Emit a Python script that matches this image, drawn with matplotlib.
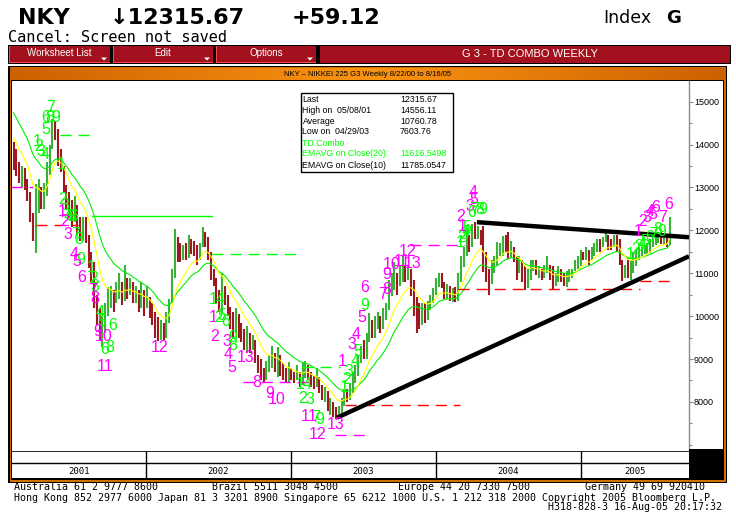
import numpy as np
import pandas as pd
import matplotlib
matplotlib.use("Agg")
import matplotlib.pyplot as plt
from matplotlib.patches import Rectangle, Polygon
from matplotlib.ticker import MultipleLocator, FixedLocator, FuncFormatter

# ---------------- data (weekly NKY bars) ----------------
start_date = "2001-02-02"
close = [
    13700, 13500, 13250, 13300, 13100, 12900, 12300, 12000, 12700, 12900,
    12600, 12900, 13500, 13900, 14500, 14300, 13800, 13400, 13000, 12700,
    12500, 12300, 12600, 12200, 12000, 12200, 11800, 11400, 11000, 10500,
    10000, 9600, 9700, 10100, 10400, 10500, 10300, 10600, 10700, 10400,
    10800, 10600, 10700, 10400, 10500, 10300, 10500, 10200, 10400, 10100,
    10000, 9700, 9500, 9800, 9600, 10000, 10300, 11000, 11700, 11600,
    11300, 11500, 11400, 11700, 11600, 11500, 11300, 11600, 11900, 11800,
    11400, 11000, 10800, 10500, 10300, 10700, 10400, 10100, 10000, 9800,
    10000, 9750, 9600, 9400, 9550, 9300, 9400, 9100, 8800, 8700,
    8600, 8800, 8900, 9100, 8800, 9000, 8700, 8600, 8500, 8700,
    8600, 8500, 8650, 8500, 8700, 8800, 8650, 8500, 8400, 8550,
    8300, 8150, 8200, 7900, 7950, 7750, 7700, 7800, 8000, 8200,
    8100, 8300, 8500, 8700, 8900, 9200, 9000, 9500, 9800, 9600,
    9700, 9900, 9700, 10000, 10200, 10500, 10800, 11000, 10700, 10900,
    11100, 10900, 11000, 10700, 10400, 10200, 9900, 10100, 10000, 10200,
    10400, 10500, 10800, 10900, 10700, 10500, 10600, 10400, 10500, 10400,
    10900, 11200, 11500, 11800, 11700, 12000, 11900, 12000, 11800, 11200,
    11000, 10800, 11100, 11300, 11500, 11600, 11800, 11700, 11500, 11600,
    11300, 11000, 11200, 10900, 10700, 10900, 11100, 11200, 11000, 11050,
    10900, 11000, 11100, 10900, 10700, 10900, 11000, 10850, 10800, 10950,
    11000, 11050, 11200, 11350, 11450, 11400, 11500, 11350, 11450, 11600,
    11700, 11650, 11750, 11850, 11700, 11650, 11800, 11700, 11300, 10900,
    11100, 11000, 11200, 11300, 11400, 11450, 11500, 11550, 11650, 11700,
    11750, 11800, 11850, 11700, 11750, 11700, 12315.67,
]
high = [
    14050, 13900, 13600, 13500, 13450, 13200, 12900, 12400, 13070, 13200,
    13000, 13100, 13600, 14000, 14600, 14556, 14350, 13900, 13500, 13050,
    12900, 12700, 12800, 12600, 12300, 12300, 12300, 11900, 11500, 11270,
    10500, 10200, 10000, 10300, 10670, 10700, 10600, 10800, 11000, 10800,
    11200, 10900, 10900, 10800, 10700, 10600, 10800, 10600, 10700, 10450,
    10300, 10100, 9970, 9900, 9850, 10100, 10400, 11100, 12020, 11840,
    11700, 11650, 11700, 11900, 11800, 11750, 11650, 11700, 12070, 11950,
    11850, 11500, 11100, 10900, 10600, 11010, 10700, 10500, 10220, 10100,
    10200, 10050, 9850, 9700, 9760, 9600, 9550, 9450, 9100, 8990,
    8800, 8950, 9100, 9300, 9150, 9290, 9100, 8900, 8800, 8920,
    8800, 8700, 8850, 8700, 8900, 8950, 8850, 8700, 8600, 8800,
    8590, 8400, 8350, 8250, 8100, 8000, 7890, 7900, 8100, 8300,
    8300, 8450, 8700, 8850, 9100, 9300, 9450, 9600, 10080, 9900,
    10000, 10100, 10000, 10200, 10300, 10850, 11000, 11250, 11000, 11200,
    11390, 11200, 11200, 11090, 10850, 10450, 10300, 10300, 10300, 10350,
    10500, 10650, 10900, 11000, 11000, 10800, 10750, 10700, 10650, 10690,
    11000, 11390, 11600, 12020, 11900, 12150, 12195, 12100, 12000, 12090,
    11500, 11100, 11300, 11390, 11720, 11700, 11860, 11900, 11950, 11750,
    11600, 11390, 11400, 11300, 11160, 11100, 11300, 11300, 11300, 11160,
    11100, 11200, 11390, 11200, 11160, 11000, 11160, 11100, 11000, 11050,
    11090, 11100, 11300, 11390, 11550, 11500, 11600, 11550, 11600, 11700,
    11790, 11800, 11850, 11950, 11900, 11800, 11900, 11900, 11790, 11300,
    11200, 11300, 11300, 11500, 11550, 11600, 11600, 11650, 11700, 11790,
    11850, 11900, 11950, 11950, 11900, 11900, 12320,
]
low = [
    13400, 13260, 13100, 13000, 12950, 12680, 12200, 11740, 11460, 12400,
    12500, 12500, 12800, 13300, 13900, 14100, 13500, 13370, 12900, 12500,
    12300, 12070, 12200, 11900, 11750, 11740, 11700, 11130, 10800, 10200,
    9800, 9410, 9270, 9600, 10000, 10200, 10100, 10300, 10400, 10250,
    10350, 10400, 10500, 10300, 10300, 10100, 10200, 10000, 10200, 9950,
    9800, 9500, 9420, 9450, 9450, 9500, 9850, 10300, 10900, 11250,
    11250, 11300, 11300, 11350, 11450, 11400, 11200, 11300, 11600, 11600,
    11300, 10850, 10700, 10300, 10100, 10080, 10250, 10000, 9700, 9520,
    9600, 9500, 9400, 9200, 9150, 9150, 9200, 8900, 8680, 8500,
    8450, 8500, 8700, 8800, 8700, 8590, 8600, 8500, 8450, 8450,
    8500, 8450, 8500, 8350, 8400, 8550, 8500, 8350, 8300, 8350,
    8200, 8050, 8000, 7800, 7700, 7650, 7600, 7603, 7750, 7900,
    8000, 8050, 8200, 8450, 8600, 8900, 8990, 9000, 9400, 9500,
    9500, 9700, 9600, 9700, 9900, 10150, 10460, 10600, 10500, 10700,
    10800, 10800, 10850, 10460, 10000, 9610, 9700, 9800, 9850, 9900,
    10150, 10300, 10500, 10690, 10650, 10400, 10400, 10350, 10320, 10320,
    10350, 10800, 11150, 11400, 11500, 11620, 11800, 11800, 11650, 11020,
    10800, 10500, 10750, 11000, 11160, 11400, 11390, 11500, 11320, 11350,
    11250, 10850, 11000, 10800, 10620, 10650, 10850, 11050, 10950, 10900,
    10850, 10900, 11000, 10850, 10620, 10700, 10800, 10800, 10700, 10690,
    10800, 10900, 11050, 11100, 11160, 11300, 11300, 11200, 11300, 11390,
    11500, 11500, 11600, 11720, 11550, 11550, 11600, 11500, 11200, 10810,
    10900, 10900, 10850, 11000, 11160, 11300, 11400, 11450, 11450, 11480,
    11600, 11650, 11700, 11670, 11650, 11600, 11650,
]
prev_close_before_start = 14000
ema20_seed = 14850
ema10_seed = 14250

y_ticks = [8000, 9000, 10000, 11000, 12000, 13000, 14000, 15000]
year_labels = ["2001", "2002", "2003", "2004", "2005"]
year_starts = ["2002-01-01", "2003-01-01", "2004-01-01", "2005-01-01"]

# TD Combo counts: text, week position, price, colour key
td_text = ["1", "2", "3", "4", "5", "6", "8", "9", "7", "1",
           "2", "3", "1", "4", "5", "6", "2", "3", "7", "8", "4", "9", "5", "1", "6", "2", "3", "7", "8",
           "4", "5", "9", "10", "6", "6", "8", "11", "12",
           "1", "4", "1", "2", "5", "6", "2", "3", "9", "8", "4", "5", "13", "8", "9", "10",
           "1", "4", "2", "3", "1", "1", "7", "9", "13", "12",
           "1", "1", "2", "3", "4", "5", "3", "4", "5", "9", "6", "7", "8", "9", "10", "11", "12", "13",
           "1", "2", "3", "4", "5", "1", "2", "3", "4", "5", "6", "7", "8", "9",
           "1", "2", "3", "4", "5", "6", "7", "6", "1", "2", "3", "4", "5", "6", "7", "8", "9"]
td_week = [8.5, 9.2, 9.9, 11.3, 11.7, 11.7, 13.1, 15.3, 13.5, 17.1,
           17.8, 18.5, 17.4, 19.6, 20.7, 21.8, 18.5, 19.6, 22.5, 23.6, 21.8, 24.3, 22.8, 27.9, 24.6, 29.0, 29.3, 28.6, 29.3,
           31.1, 31.8, 30.4, 32.6, 35.8, 32.9, 34.7, 32.9, 52.7,
           71.8, 74.3, 71.8, 73.9, 75.0, 76.4, 72.5, 76.8, 79.0, 79.0, 77.2, 78.6, 83.6, 87.6, 92.3, 94.8,
           103.1, 105.6, 104.1, 106.7, 104.9, 107.4, 108.8, 110.3, 116.0, 109.5,
           118.2, 118.9, 120.0, 120.7, 122.8, 123.9, 121.8, 123.2, 125.4, 126.4, 126.4, 132.9, 134.4, 134.4, 136.2, 139.7, 141.9, 143.7,
           160.6, 161.3, 162.1, 162.8, 163.1, 161.3, 161.0, 164.2, 165.3, 165.6, 164.9, 166.0, 167.8, 168.9,
           224.6, 226.4, 227.8, 228.9, 230.0, 231.1, 233.6, 235.8, 222.0, 223.9, 225.0, 226.1, 227.2, 229.0, 230.4, 231.8, 233.3]
td_price = [14060, 13965, 13848, 13778, 14339, 14619, 14619, 14619, 14853, 13544,
            12727, 12587, 12447, 12330, 12330, 12330, 12213, 11909, 11909, 11792, 11442, 11325, 11278, 11138, 10904, 10881, 10694, 10601, 10414,
            10086, 9876, 9642, 9526, 9783, 9222, 9269, 8825, 9269,
            10390, 10390, 9970, 9970, 10016, 9876, 9526, 9409, 9502, 9316, 9105, 8802, 9035, 8451, 8194, 8054,
            8404, 8404, 8077, 8054, 7657, 7657, 7634, 7587, 7470, 7236,
            8942, 8334, 8521, 8708, 8942, 9176, 9339, 9573, 9970, 10250, 10670, 10507, 10624, 10975, 11208, 11278, 11512, 11232,
            11722, 11839, 11909, 11979, 12073, 12096, 12330, 12564, 12891, 12727, 12423, 12494, 12494, 12494,
            11979, 12213, 12307, 12447, 12377, 12540, 12307, 12610, 11442, 11559, 11629, 11675, 11745, 11839, 11909, 12025, 11979]
td_color = ["g"] * 10 + \
           ["g", "g", "m", "g", "g", "g", "m", "m", "g", "g", "m", "g", "m", "g", "m", "g", "g", "m", "m",
            "g", "g", "m", "m", "g", "g", "g", "m", "m"] + \
           ["g", "g", "m", "g", "g", "g", "m", "m", "g", "g", "m", "m", "m", "m", "m", "m",
            "g", "g", "g", "g", "m", "m", "g", "g", "m", "m"] + \
           ["m", "g", "g", "g", "g", "g", "m", "m", "m", "g", "m", "m", "m", "m", "m", "m", "m", "m"] + \
           ["g", "g", "g", "g", "g", "m", "m", "m", "m", "m", "g", "g", "g", "g"] + \
           ["m"] * 8 + ["g"] * 9

# TDST / support-resistance levels
lvl_start = [16.7, -0.9, 8.1, 28.2, 71.4, 103.8, 82.6, 115.6, 119.2, 142.6, 159.9, 225.3]
lvl_end = [28.2, 7.0, 23.2, 71.4, 103.1, 117.4, 106.7, 128.2, 160.6, 162.4, 225.3, 236.2]
lvl_price = [14222, 13007, 12119, 12330, 11442, 8825, 8474, 7236, 7937, 11652, 10624, 10818]
lvl_color = ["g", "m", "r", "g", "g", "g", "m", "m", "r", "m", "r", "r"]
lvl_dashed = [True, True, True, False, True, True, True, True, True, True, True, True]

# trend lines
trend_w0 = [166.7, 116.4]
trend_w1 = [243.0, 243.0]
trend_p0 = [12190, 7634]
trend_p1 = [11839, 11395]

info_labels = ["Last", "High on  05/08/01", "Average", "Low on  04/29/03", "TD Combo",
               "EMAVG on Close(20)", "EMAVG on Close(10)"]
info_values = ["12315.67", "14556.11", "10760.78", "7603.76", "", "11616.5498", "11785.0547"]
info_colors = ["k", "k", "k", "k", "g", "g", "k"]

footer_1 = [("Australia 61 2 9777 8600", 14), ("Brazil 5511 3048 4500", 212),
            ("Europe 44 20 7330 7500", 398), ("Germany 49 69 920410", 585)]
footer_2 = "Hong Kong 852 2977 6000 Japan 81 3 3201 8900 Singapore 65 6212 1000 U.S. 1 212 318 2000 Copyright 2005 Bloomberg L.P."
footer_3 = "H318-828-3 16-Aug-05 20:17:32"

# ---------------- styling ----------------
COL = {"g": "#00ff00", "m": "#ff00ff", "r": "#ff0000", "k": "#000000"}
UP, DN = "#38b238", "#9e1820"
W, H = 736, 527
plt.rcParams["font.family"] = ["DejaVu Sans"]

fig = plt.figure(figsize=(W / 100, H / 100), dpi=100)
fig.patch.set_facecolor("white")


def fx(x):
    return x / W


def fy(y):
    return 1 - y / H


def frect(x0, y0, x1, y1, z=-5, **kw):
    r = Rectangle((fx(x0), fy(y1)), (x1 - x0) / W, (y1 - y0) / H,
                  transform=fig.transFigure, figure=fig, zorder=z, **kw)
    fig.patches.append(r)
    return r


def ftext(x, y, s, **kw):
    return fig.text(fx(x), fy(y), s, **kw)


# header
ftext(18, 23.5, "NKY", fontsize=16, fontweight="bold", va="baseline")
ftext(110, 23.5, "\u219312315.67", fontsize=16, fontweight="bold", va="baseline")
ftext(292, 23.5, "+59.12", fontsize=16, fontweight="bold", va="baseline")
ftext(603, 23, "Index", fontsize=12.5, va="baseline")
ftext(666, 23, "G", fontsize=13, fontweight="bold", va="baseline")
ftext(8, 42.5, "Cancel: Screen not saved", fontsize=11, family="DejaVu Sans Mono", va="baseline")

# menu bar
frect(8, 44.5, 731, 64, z=1, facecolor="black", edgecolor="none")
menu = [("Worksheet List", 9, 110), ("Edit", 113, 213), ("Options", 216, 316)]
for label, a, b in menu:
    frect(a, 46, b, 63, z=1.1, facecolor="#a3101e", edgecolor="none")
    frect(a, 61.5, b, 63, z=1.2, facecolor="#ff4a4a", edgecolor="none")
    frect(a, 46, a + 1.2, 63, z=1.2, facecolor="#ff4a4a", edgecolor="none")
    ftext((a + b) / 2, 53, label, fontsize=7, color="white", ha="center", va="center",
          family="Liberation Sans", zorder=3)
    tri = Polygon([[fx(b - 9), fy(57.5)], [fx(b - 3), fy(57.5)], [fx(b - 6), fy(60.5)]],
                  closed=True, transform=fig.transFigure, facecolor="white", edgecolor="none", zorder=3)
    fig.patches.append(tri)
frect(320, 46, 730, 63, z=1.1, facecolor="#a3101e", edgecolor="none")
ftext(530, 54, "G 3 - TD COMBO WEEKLY", fontsize=8, color="white", ha="center", va="center",
      family="Liberation Sans", zorder=3)

# frame
frect(8, 65.5, 727, 483, z=-6, facecolor="black", edgecolor="none")
frect(9.5, 67, 725.5, 481.5, z=-5.5, facecolor="#d27000", edgecolor="none")
frect(11, 79.5, 724, 479.5, z=-5, facecolor="black", edgecolor="none")
frect(12, 81, 723, 478, z=-4.5, facecolor="white", edgecolor="none")

# orange title band with gradient
band = fig.add_axes([fx(9.5), fy(80), (725.5 - 9.5) / W, 12 / H])
t = np.linspace(0, 1, 400)
g = 1 - np.abs(t - 0.5) * 2
c0 = np.array([0.80, 0.38, 0.0])
c1 = np.array([0.98, 0.58, 0.07])
img = (c0[None, :] + (c1 - c0)[None, :] * g[:, None])[None, :, :]
band.imshow(img, aspect="auto", extent=[0, 1, 0, 1])
band.set_axis_off()
band.text(0.5, 0.45, "NKY \u2013 NIKKEI 225 G3 Weekly 8/22/00 to 8/16/05", fontsize=5.5,
          ha="center", va="center", family="Liberation Sans")

# ---------------- main price chart ----------------
n = len(close)
weeks = np.arange(n)
dates = pd.date_range(start_date, periods=n, freq="W-FRI")
XMIN, XMAX = -0.54, 243.0

ax = fig.add_axes([fx(12), fy(450), (689 - 12) / W, (450 - 81) / H])
ax.set_facecolor("none")
ax.set_xlim(XMIN, XMAX)
ax.set_ylim(6880, 15480)

prev = np.r_[prev_close_before_start, close[:-1]]
colors = [UP if c >= p else DN for c, p in zip(close, prev)]
ax.vlines(weeks, low, high, colors=colors, linewidth=1.5, zorder=2)

cs = pd.Series(close, dtype=float)
ema20 = pd.concat([pd.Series([ema20_seed]), cs]).ewm(span=20, adjust=False).mean().iloc[1:].values
ema10 = pd.concat([pd.Series([ema10_seed]), cs]).ewm(span=10, adjust=False).mean().iloc[1:].values
ax.plot(weeks, ema20, color="#00ee00", lw=0.8, zorder=3)
ax.plot(weeks, ema10, color="#ffff00", lw=0.8, zorder=3)

for a, b, p, c, d in zip(lvl_start, lvl_end, lvl_price, lvl_color, lvl_dashed):
    ln, = ax.plot([a, b], [p, p], color=COL[c], lw=1.0, zorder=3)
    if d:
        ln.set_dashes([8, 5])

for a, b, p0, p1 in zip(trend_w0, trend_w1, trend_p0, trend_p1):
    ax.plot([a, b], [p0, p1], color="black", lw=3.2, solid_capstyle="butt", zorder=4)

for s, w, p, c in zip(td_text, td_week, td_price, td_color):
    ax.text(w, p, s, color=COL[c], fontsize=11.5, ha="center", va="center",
            family="Liberation Sans", zorder=5, clip_on=True)

for side in ["top", "left", "bottom"]:
    ax.spines[side].set_visible(False)
ax.spines["right"].set_color("#8a8a8a")
ax.spines["right"].set_linewidth(1.0)
ax.set_xticks([])
ax.yaxis.tick_right()
ax.yaxis.set_major_locator(FixedLocator(y_ticks))
ax.yaxis.set_minor_locator(MultipleLocator(500))
ax.yaxis.set_major_formatter(FuncFormatter(lambda v, pos: f"{v:.0f}"))
ax.tick_params(axis="y", which="major", direction="out", length=3, width=0.8, color="#8a8a8a",
               labelsize=6.5, pad=0.5)
ax.tick_params(axis="y", which="minor", direction="out", length=2, width=0.8, color="#8a8a8a")
for lab in ax.get_yticklabels():
    lab.set_family("Liberation Sans")

# info box
frect(301, 93, 453, 172, z=2, facecolor="white", edgecolor="black", linewidth=1.0)
rows_y = [100, 110.5, 121, 131, 143.5, 154, 165]
for lab, val, c, yy in zip(info_labels, info_values, info_colors, rows_y):
    ftext(302.5, yy, lab, fontsize=6.3, color=COL[c], va="center", family="Liberation Sans", zorder=3)
    ftext(400, yy, val, fontsize=6.3, color=COL[c], va="center", family="Liberation Sans", zorder=3)

# ---------------- year rows ----------------
axr = fig.add_axes([fx(12), fy(477.5), (689 - 12) / W, (477.5 - 450.5) / H])
axr.set_xlim(XMIN, XMAX)
axr.set_ylim(0, 1)
axr.set_facecolor("white")
axr.set_axis_off()
bounds = [(pd.Timestamp(s) - dates[0]).days / 7.0 for s in year_starts]
edges = [XMIN] + bounds + [XMAX]
axr.axhline(1.0, color="black", lw=1.2)
axr.axhline(0.52, color="black", lw=1.0)
for b in bounds:
    axr.axvline(b, color="black", lw=1.0)
for lab, a, b in zip(year_labels, edges[:-1], edges[1:]):
    axr.text((a + b) / 2, 0.22, lab, fontsize=6.5, family="DejaVu Sans Mono", ha="center", va="center")

frect(689, 449, 724, 479.5, z=2, facecolor="black", edgecolor="none")

# ---------------- footer ----------------
for s, x in footer_1:
    ftext(x, 487.5, s, fontsize=7.2, family="DejaVu Sans Mono", va="center")
ftext(14, 498, footer_2, fontsize=7.2, family="DejaVu Sans Mono", va="center")
ftext(722, 507.5, footer_3, fontsize=7.2, family="DejaVu Sans Mono", va="center", ha="right")

fig.savefig("out.png", dpi=100, facecolor="white")
